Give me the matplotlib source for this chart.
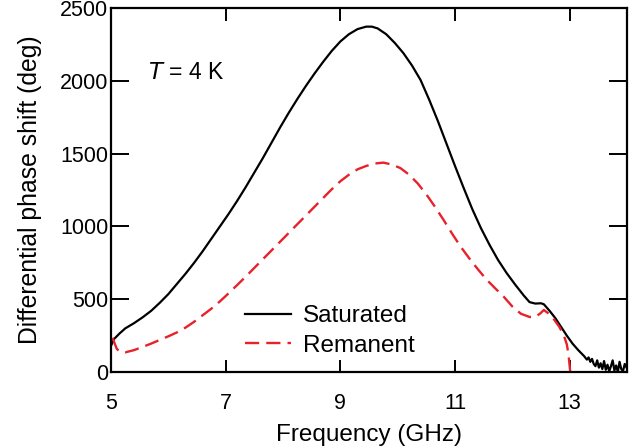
import matplotlib
matplotlib.use("Agg")
import matplotlib.pyplot as plt

plt.rcParams['font.family'] = ['Liberation Sans', 'DejaVu Sans']

# Saturated (black) curve
sat_x = [5.00, 5.05, 5.10, 5.15, 5.25, 5.40, 5.55, 5.70, 5.85, 6.00, 6.15, 6.30, 6.45, 6.60,
         6.75, 6.90, 7.05, 7.20, 7.35, 7.50, 7.65, 7.80, 7.95, 8.10, 8.25, 8.40, 8.55, 8.70,
         8.85, 9.00, 9.15, 9.30, 9.45, 9.55, 9.65, 9.80, 9.95, 10.10, 10.25, 10.40, 10.55,
         10.70, 10.85, 11.00, 11.15, 11.30, 11.45, 11.60, 11.75, 11.90, 12.05, 12.20, 12.30,
         12.40, 12.50, 12.55, 12.65, 12.75, 12.85, 12.95, 13.05, 13.15, 13.25, 13.30,
         13.33, 13.36, 13.39, 13.42, 13.45, 13.48, 13.51, 13.54, 13.57, 13.60, 13.63, 13.66,
         13.69, 13.72, 13.75, 13.78, 13.81, 13.84, 13.87, 13.90, 13.93, 13.96, 14.00]
sat_y = [180, 225, 245, 265, 300, 335, 375, 420, 475, 535, 605, 675, 750, 830,
         915, 1000, 1085, 1175, 1270, 1370, 1470, 1575, 1680, 1780, 1875, 1965, 2050, 2130,
         2205, 2270, 2320, 2355, 2372, 2372, 2360, 2320, 2260, 2190, 2105, 2005, 1870,
         1725, 1570, 1415, 1265, 1120, 990, 875, 770, 680, 600, 525, 480,
         470, 472, 465, 420, 370, 310, 250, 195, 150, 110, 85,
         100, 70, 90, 55, 40, 80, 30, 60, 20, 75, 15, 50, 5, 40, 80, 10, 45, 0, 70, 20, 5, 55, 25]

# Remanent (red dashed) curve
rem_x = [5.03, 5.06, 5.10, 5.15, 5.25, 5.40, 5.55, 5.70, 5.85, 6.00, 6.15, 6.30, 6.45, 6.60,
         6.75, 6.90, 7.05, 7.20, 7.35, 7.50, 7.65, 7.80, 7.95, 8.10, 8.25, 8.40, 8.55, 8.70,
         8.85, 9.00, 9.15, 9.30, 9.45, 9.60, 9.75, 9.90, 10.05, 10.20, 10.35, 10.50, 10.65,
         10.80, 10.95, 11.10, 11.25, 11.40, 11.55, 11.70, 11.85, 12.00, 12.15, 12.30, 12.40,
         12.48, 12.55, 12.62, 12.72, 12.82, 12.90, 12.95, 12.98, 13.01]
rem_y = [235, 200, 160, 140, 135, 150, 172, 195, 220, 245, 272, 305, 345, 390,
         435, 485, 540, 597, 655, 715, 775, 835, 895, 955, 1015, 1075, 1135, 1195,
         1255, 1310, 1355, 1392, 1415, 1432, 1438, 1425, 1400, 1355, 1295, 1220, 1135,
         1045, 950, 860, 780, 705, 635, 575, 517, 450, 400, 378, 378,
         400, 426, 405, 365, 310, 250, 190, 120, 0]

xticks = [5, 7, 9, 11, 13]
yticks = [0, 500, 1000, 1500, 2000, 2500]

fig = plt.figure(figsize=(6.33, 4.46), dpi=100)
ax = fig.add_axes([111/633, 1-372/446, 516/633, 364/446])

ax.plot(sat_x, sat_y, color='black', lw=1.6, label='Saturated')
ax.plot(rem_x, rem_y, color='#e8212a', lw=1.7, linestyle=(0, (6, 3)), label='Remanent')

ax.set_xlim(5, 14)
ax.set_ylim(0, 2500)
ax.set_xticks(xticks)
ax.set_yticks(yticks)
for s in ax.spines.values():
    s.set_linewidth(1.6)
ax.tick_params(axis='both', direction='in', top=True, right=True, width=1.4, labelsize=15.5)
ax.tick_params(axis='y', length=13, pad=2)
ax.tick_params(axis='x', length=9, pad=15)

ax.set_xlabel('Frequency (GHz)', fontsize=17.5, labelpad=7)
ax.set_ylabel('Differential phase shift (deg)', fontsize=17.8, labelpad=13)

ax.text(0.072, 0.805, r'$T$ = 4 K', transform=ax.transAxes, fontsize=16.5)

ax.legend(loc='lower left', bbox_to_anchor=(0.217, -0.018), frameon=False, fontsize=17.5,
          handlelength=1.9, handletextpad=0.5, labelspacing=0.3)

fig.savefig('out.png', dpi=100)
